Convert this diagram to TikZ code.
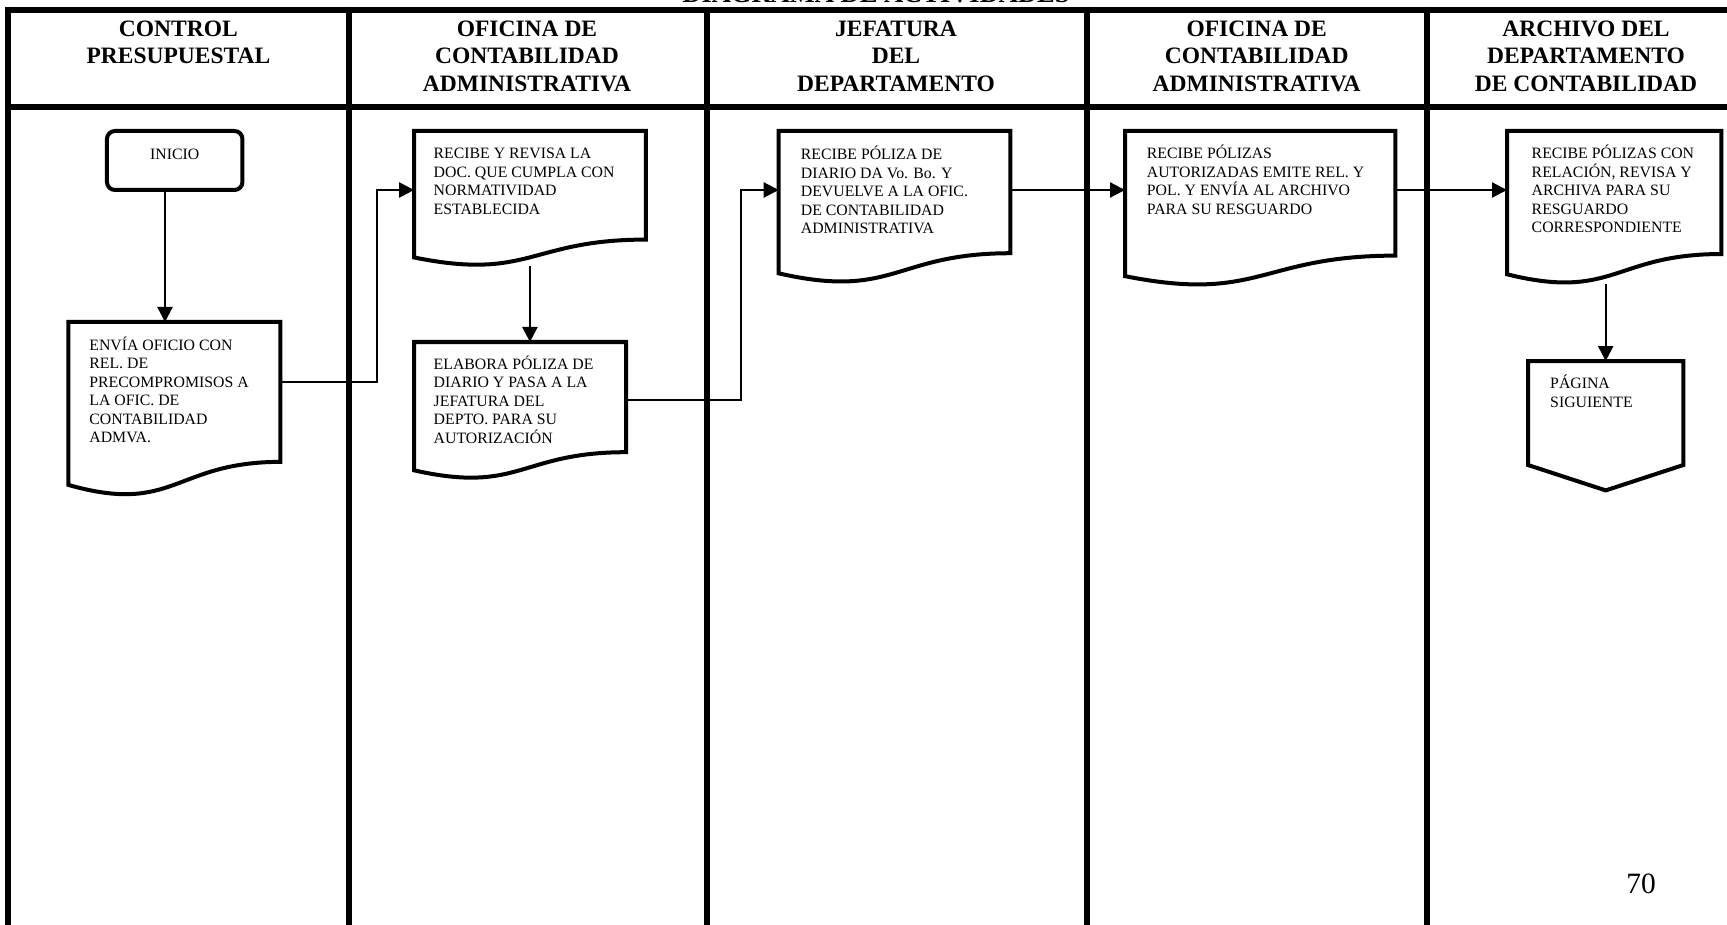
\documentclass[tikz,border=0pt]{standalone}
\usepackage{fontspec}
\setmainfont{Liberation Serif}
\usetikzlibrary{arrows.meta,calc}

% outline of a flowchart "document" symbol built on an empty box node
\newcommand\docoutline[1]{%
  \draw[shapeline] (#1.north west) -- (#1.north east)
    -- ($(#1.north east)!0.802!(#1.south east)$)
    .. controls ($(#1.north)!0.802!(#1.south)$) and ($(#1.north)!1.1075!(#1.south)$)
    .. ($(#1.north west)!0.934!(#1.south west)$) -- cycle;}
% fixed-height first lines so every text block starts at the same place
\newcommand\firstline{\rule{0pt}{15pt}}
\newcommand\headstrut{\rule{0pt}{21pt}}

\begin{document}
\begin{tikzpicture}[x=1pt,y=-1pt,
  laneline/.style={line width=6pt},
  shapeline/.style={line width=4pt},
  flow/.style={line width=2.2pt,-{Triangle[length=15pt,width=15pt]}},
  headtext/.style={font=\fontsize{23.5}{27.3}\selectfont\bfseries,
    align=center, anchor=north, inner sep=0pt},
  bodytext/.style={font=\fontsize{15.8}{18.5}\selectfont,
    align=left, anchor=north west, inner sep=0pt},
  docbox/.style={rectangle, draw=none, inner sep=0pt, anchor=north west},
]
\useasboundingbox (0,0) rectangle (1727,925);

% title, mostly above the page edge
\node[font=\fontsize{26.5}{28}\selectfont\bfseries, anchor=base, inner sep=0pt]
  (title) at (876,3) {DIAGRAMA DE ACTIVIDADES};

% swimlane grid
\draw[laneline] (5,9.7) -- (1727,9.7);
\draw[laneline] (5,107) -- (1727,107);
\foreach \x in {8,348.5,706.5,1086.5,1427}
  \draw[laneline] (\x,6.7) -- (\x,925);

% lane headings
\node[headtext] (h1) at (178.4,15.3) {\headstrut CONTROL\\PRESUPUESTAL};
\node[headtext] (h2) at (527,15.3) {\headstrut OFICINA DE\\CONTABILIDAD\\ADMINISTRATIVA};
\node[headtext] (h3) at (896,15.3) {\headstrut JEFATURA\\DEL\\DEPARTAMENTO};
\node[headtext] (h4) at (1256.7,15.3) {\headstrut OFICINA DE\\CONTABILIDAD\\ADMINISTRATIVA};
\node[headtext] (h5) at (1586,15.3) {\headstrut ARCHIVO DEL\\DEPARTAMENTO\\DE CONTABILIDAD};

% start terminal
\node[draw, shapeline, rounded corners=8pt, minimum width=135.5pt, minimum height=59pt,
  font=\fontsize{15.8}{18.5}\selectfont, text height=10.5pt, text depth=13pt, inner sep=0pt]
  (ini) at (174.7,160.5) {INICIO};

% document boxes
\node[docbox, minimum width=211.7pt, minimum height=174pt] (d1) at (68.3,322) {};
\node[docbox, minimum width=231.3pt, minimum height=135pt] (d2) at (414.1,131) {};
\node[docbox, minimum width=211.5pt, minimum height=137pt] (d3) at (414.1,342) {};
\node[docbox, minimum width=231.3pt, minimum height=152pt] (d4) at (778.7,131) {};
\node[docbox, minimum width=270pt, minimum height=155pt] (d5) at (1125,131) {};
\node[docbox, minimum width=214pt, minimum height=153pt] (d6) at (1507,131) {};
% off-page connector
\node[docbox, minimum width=155pt, minimum height=129pt] (op) at (1528,361) {};

% connectors
\coordinate (b12) at (376.7,190);
\coordinate (b34) at (741,190);
\draw[flow] ([xshift=-9.7pt]ini.south) -- ([xshift=-9.7pt]ini.south |- d1.north);
\draw[flow] ($(d1.north east)+(0,59.7)$) -| (b12) -- (b12 -| d2.west);
\draw[flow] (d2.south) -- (d2.south |- d3.north);
\draw[flow] ($(d3.north east)+(0,58)$) -| (b34) -- (b34 -| d4.west);
\draw[flow] ($(d4.north east)+(0,59)$) -- ($(d5.north west)+(0,59)$);
\draw[flow] ($(d5.north east)+(0,59)$) -- ($(d6.north west)+(0,59)$);
\draw[flow] (op.north |- d6.south) -- (op.north);

% outlines
\docoutline{d1}
\docoutline{d2}
\docoutline{d3}
\docoutline{d4}
\docoutline{d5}
\docoutline{d6}
\draw[shapeline] (op.north west) -- (op.north east) -- ($(op.north east)+(0,104)$)
  -- (op.south) -- ($(op.north west)+(0,104)$) -- cycle;

% box texts
\node[bodytext] (t1) at (89.2,334.8) {\firstline ENVÍA OFICIO CON\\REL. DE\\PRECOMPROMISOS A\\LA OFIC. DE\\CONTABILIDAD\\ADMVA.};
\node[bodytext] (t2) at (433.5,143.8) {\firstline RECIBE Y REVISA LA\\DOC. QUE CUMPLA CON\\NORMATIVIDAD\\ESTABLECIDA};
\node[bodytext] (t3) at (433.5,353.8) {\firstline ELABORA PÓLIZA DE\\DIARIO Y PASA A LA\\JEFATURA DEL\\DEPTO. PARA SU\\AUTORIZACIÓN};
\node[bodytext] (t4) at (800.7,144.8) {\firstline RECIBE PÓLIZA DE\\DIARIO DA Vo. Bo. Y\\DEVUELVE A LA OFIC.\\DE CONTABILIDAD\\ADMINISTRATIVA};
\node[bodytext] (t5) at (1146.7,143.6) {\firstline RECIBE PÓLIZAS\\AUTORIZADAS EMITE REL. Y\\POL. Y ENVÍA AL ARCHIVO\\PARA SU RESGUARDO};
\node[bodytext] (t6) at (1531.5,143.6) {\firstline RECIBE PÓLIZAS CON\\RELACIÓN, REVISA Y\\ARCHIVA PARA SU\\RESGUARDO\\CORRESPONDIENTE};
\node[bodytext] (t7) at (1550,373.3) {\firstline PÁGINA\\SIGUIENTE};

% page number
\node[font=\fontsize{29.5}{30}\selectfont, inner sep=0pt] (pg) at (1641,883.7) {70};
\end{tikzpicture}
\end{document}
